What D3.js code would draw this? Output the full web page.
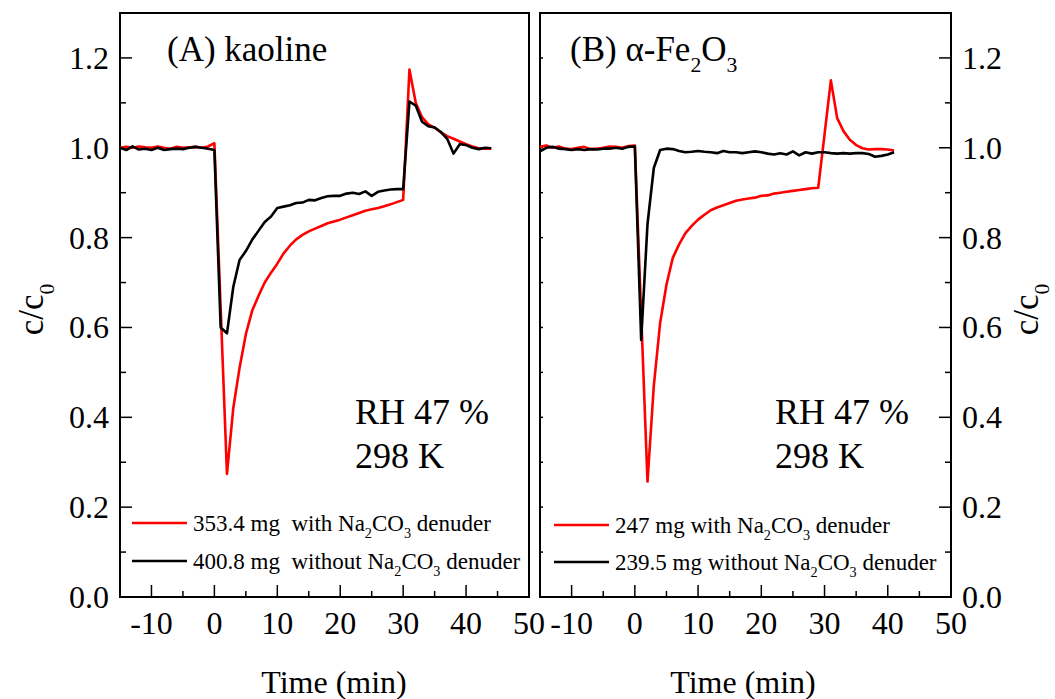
<!DOCTYPE html>
<html lang="en">
  <head>
    <meta charset="UTF-8" />
    <title>c/c0 vs time</title>
    <script src="https://d3js.org/d3.v7.min.js"></script>
    <style>
      body {
        margin: 0;
        padding: 0;
        background: #fff;
      }
      svg {
        display: block;
        font-family: "Liberation Serif", "Times New Roman", serif;
      }
      text {
        white-space: pre;
      }
      .tick-label {
        font-size: 32px;
        fill: #000;
      }
    </style>
  </head>
  <body>
    <svg width="1055" height="699"></svg>
    <script>
      // ---- data ----
      const timeA = [
        -15, -14, -13, -12, -11, -10, -9, -8, -7, -6, -5, -4, -3, -2, -1, 0, 1, 2,
        3, 4, 5, 6, 7, 8, 9, 10, 11, 12, 13, 14, 15, 16, 17, 18, 19, 20, 21, 22,
        23, 24, 25, 26, 27, 28, 29, 30, 31, 32, 33, 34, 35, 36, 37, 38, 39, 40,
        41, 42, 43, 44,
      ];
      const kaolineWith = [
        1.0, 1.002, 1.0, 1.003, 1.001, 1.0, 1.003, 1.0, 0.998, 1.002, 1.0, 1.001,
        1.002, 1.0, 1.003, 1.01, 0.642, 0.274, 0.42, 0.51, 0.585, 0.637, 0.67,
        0.7, 0.722, 0.742, 0.765, 0.782, 0.796, 0.806, 0.814, 0.82, 0.826, 0.832,
        0.836, 0.84, 0.845, 0.85, 0.855, 0.86, 0.863, 0.866, 0.87, 0.874,
        0.879, 0.884, 1.174, 1.1, 1.068, 1.052, 1.045, 1.034, 1.026, 1.02, 1.014,
        1.008, 1.003, 0.999, 0.998, 0.998,
      ];
      const kaolineWithout = [
        1.0, 0.995, 1.003, 0.996, 0.998, 0.995, 1.0, 0.995, 0.997, 0.998, 0.997,
        1.0, 1.002, 1.0, 0.998, 0.995, 0.6, 0.587, 0.69, 0.75, 0.77, 0.795,
        0.815, 0.835, 0.847, 0.866, 0.869, 0.872, 0.877, 0.878, 0.884, 0.883,
        0.888, 0.892, 0.893, 0.893, 0.898, 0.9, 0.897, 0.903, 0.893, 0.902,
        0.905, 0.907, 0.908, 0.908, 1.103, 1.094, 1.058, 1.048, 1.045, 1.035,
        1.02, 0.987, 1.008, 1.006, 1.0, 0.997, 1.0, 0.999,
      ];

      const timeB = [
        -15, -14, -13, -12, -11, -10, -9, -8, -7, -6, -5, -4, -3, -2, -1, 0, 1, 2,
        3, 4, 5, 6, 7, 8, 9, 10, 11, 12, 13, 14, 15, 16, 17, 18, 19, 20, 21, 22,
        23, 24, 25, 26, 27, 28, 29, 30, 31, 32, 33, 34, 35, 36, 37, 38, 39, 40,
        41,
      ];
      const hematiteWith = [
        1.002, 1.005, 1.0, 1.003, 0.998, 0.997, 1.0, 1.002, 0.997, 0.998, 1.0,
        1.003, 1.002, 1.0, 1.004, 1.005, 0.63, 0.257, 0.47, 0.61, 0.695, 0.755,
        0.785, 0.81, 0.826, 0.84, 0.851, 0.861, 0.867, 0.872, 0.877, 0.882,
        0.885, 0.887, 0.889, 0.893, 0.894, 0.898, 0.9, 0.902, 0.904, 0.906,
        0.908, 0.91, 0.911, 1.03, 1.15, 1.066, 1.037, 1.018, 1.006, 0.999, 0.996,
        0.997, 0.997, 0.996, 0.994,
      ];
      const hematiteWithout = [
        0.992, 1.0, 1.002, 0.998, 0.997, 0.995, 0.997, 0.995, 0.997, 0.996,
        0.998, 0.998, 1.0, 0.998, 1.002, 1.003, 0.572, 0.83, 0.955, 0.995,
        0.998, 0.997, 0.993, 0.99, 0.991, 0.993, 0.991, 0.99, 0.988, 0.993,
        0.99, 0.99, 0.988, 0.99, 0.992, 0.99, 0.987, 0.985, 0.988, 0.985, 0.992,
        0.983, 0.99, 0.987, 0.99, 0.99, 0.988, 0.987, 0.988, 0.987, 0.988,
        0.988, 0.986, 0.98, 0.982, 0.985, 0.99,
      ];

      const xTicks = [-10, 0, 10, 20, 30, 40, 50];
      const yTicks = [0.0, 0.2, 0.4, 0.6, 0.8, 1.0, 1.2];

      // ---- layout ----
      const svg = d3.select("svg");
      const plotTop = 13,
        plotBottom = 597;
      const y = d3.scaleLinear().domain([0, 1.3]).range([plotBottom, plotTop]);

      const panels = [
        {
          left: 120,
          right: 529,
          time: timeA,
          red: kaolineWith,
          black: kaolineWithout,
          title: [{ t: "(A) kaoline" }],
          titleX: 167,
          xLabelX: 334,
          legend: [
            [{ t: "353.4 mg  with Na" }, { t: "2", sub: true }, { t: "CO" }, { t: "3", sub: true }, { t: " denuder" }],
            [{ t: "400.8 mg  without Na" }, { t: "2", sub: true }, { t: "CO" }, { t: "3", sub: true }, { t: " denuder" }],
          ],
          legendX: 132,
          legendY: [523, 561],
          yAxisSide: "left",
          innerTicks: 0,
        },
        {
          left: 540,
          right: 951,
          time: timeB,
          red: hematiteWith,
          black: hematiteWithout,
          title: [{ t: "(B) α-Fe" }, { t: "2", sub: true }, { t: "O" }, { t: "3", sub: true }],
          titleX: 570,
          xLabelX: 743,
          legend: [
            [{ t: "247 mg with Na" }, { t: "2", sub: true }, { t: "CO" }, { t: "3", sub: true }, { t: " denuder" }],
            [{ t: "239.5 mg without Na" }, { t: "2", sub: true }, { t: "CO" }, { t: "3", sub: true }, { t: " denuder" }],
          ],
          legendX: 554,
          legendY: [525, 562],
          yAxisSide: "right",
          innerTicks: 3,
        },
      ];

      // text with subscripts; the shift is undone on the following normal run
      function richText(sel, parts, size) {
        const shift = size * 0.3;
        let down = false;
        parts.forEach((p) => {
          const ts = sel.append("tspan").text(p.t);
          if (p.sub) {
            ts.attr("font-size", size * 0.62);
            if (!down) ts.attr("dy", shift);
            down = true;
          } else if (down) {
            ts.attr("dy", -shift);
            down = false;
          }
        });
      }

      panels.forEach((p) => {
        const x = d3.scaleLinear().domain([-15, 50]).range([p.left, p.right]);
        const g = svg.append("g");

        // frame
        g.append("rect")
          .attr("x", p.left)
          .attr("y", plotTop)
          .attr("width", p.right - p.left)
          .attr("height", plotBottom - plotTop)
          .attr("fill", "none")
          .attr("stroke", "#000")
          .attr("stroke-width", 2);

        // x ticks (inward)
        d3.range(-10, 50, 5).forEach((v) => {
          const len = v % 10 === 0 ? 12 : 6;
          g.append("line")
            .attr("x1", x(v))
            .attr("x2", x(v))
            .attr("y1", plotBottom)
            .attr("y2", plotBottom - len)
            .attr("stroke", "#000")
            .attr("stroke-width", 1.5);
        });
        xTicks.forEach((v) => {
          g.append("text")
            .attr("class", "tick-label")
            .attr("x", x(v))
            .attr("y", 634)
            .attr("text-anchor", "middle")
            .text(v);
        });

        // y ticks on the labelled side
        const axisX = p.yAxisSide === "left" ? p.left : p.right;
        const dir = p.yAxisSide === "left" ? 1 : -1;
        d3.range(1, 13).forEach((k) => {
          const len = k % 2 === 0 ? 12 : 6;
          g.append("line")
            .attr("x1", axisX)
            .attr("x2", axisX + dir * len)
            .attr("y1", y(k / 10))
            .attr("y2", y(k / 10))
            .attr("stroke", "#000")
            .attr("stroke-width", 1.5);
          if (p.innerTicks) {
            g.append("line")
              .attr("x1", p.left)
              .attr("x2", p.left + p.innerTicks)
              .attr("y1", y(k / 10))
              .attr("y2", y(k / 10))
              .attr("stroke", "#000")
              .attr("stroke-width", 1.5);
          }
        });
        yTicks.forEach((v) => {
          g.append("text")
            .attr("class", "tick-label")
            .attr("x", p.yAxisSide === "left" ? axisX - 11 : axisX + 11)
            .attr("y", y(v) + 11)
            .attr("text-anchor", p.yAxisSide === "left" ? "end" : "start")
            .text(v.toFixed(1));
        });

        // y label
        const ylx = p.yAxisSide === "left" ? 43 : 1038;
        const yl = g
          .append("text")
          .attr("transform", `translate(${ylx},${y(0.64)}) rotate(-90)`)
          .attr("text-anchor", "middle")
          .attr("font-size", 35);
        richText(yl, [{ t: "c/c" }, { t: "0", sub: true }], 35);

        // x label
        g.append("text")
          .attr("x", p.xLabelX)
          .attr("y", 693)
          .attr("text-anchor", "middle")
          .attr("font-size", 32)
          .text("Time (min)");

        // curves
        const line = d3
          .line()
          .x((d) => x(d[0]))
          .y((d) => y(d[1]));
        [
          { vals: p.red, color: "#ff0000" },
          { vals: p.black, color: "#000000" },
        ].forEach((s) => {
          g.append("path")
            .datum(p.time.map((t, i) => [t, s.vals[i]]))
            .attr("d", line)
            .attr("fill", "none")
            .attr("stroke", s.color)
            .attr("stroke-width", 2.6)
            .attr("stroke-linejoin", "round");
        });

        // title
        const tt = g
          .append("text")
          .attr("x", p.titleX)
          .attr("y", 61)
          .attr("font-size", 35);
        richText(tt, p.title, 35);

        // RH / T annotation
        g.append("text")
          .attr("x", p.left + 235)
          .attr("y", 424)
          .attr("font-size", 36)
          .text("RH 47 %");
        g.append("text")
          .attr("x", p.left + 235)
          .attr("y", 468)
          .attr("font-size", 36)
          .text("298 K");

        // legend
        ["#ff0000", "#000000"].forEach((c, i) => {
          const ly = p.legendY[i];
          g.append("line")
            .attr("x1", p.legendX)
            .attr("x2", p.legendX + 55)
            .attr("y1", ly)
            .attr("y2", ly)
            .attr("stroke", c)
            .attr("stroke-width", 2.4);
          const lt = g
            .append("text")
            .attr("x", p.legendX + 61)
            .attr("y", ly + 8)
            .attr("font-size", 23);
          richText(lt, p.legend[i], 23);
        });
      });
    </script>
  </body>
</html>
